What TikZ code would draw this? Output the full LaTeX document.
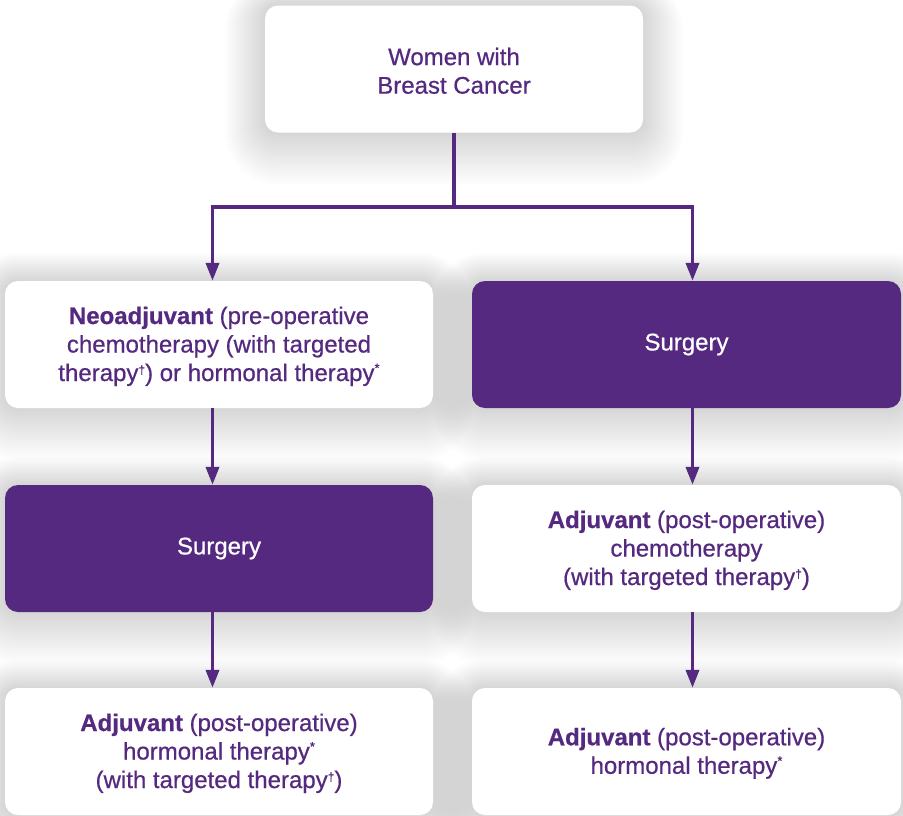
\documentclass[tikz,border=0pt]{standalone}
\usepackage{fontspec}
\setmainfont{Liberation Sans}[FakeBold=0.6]
\usetikzlibrary{arrows.meta,calc}
\definecolor{pp}{HTML}{54297F}
\pgfdeclarelayer{back}
\pgfdeclarelayer{shadow}
\pgfsetlayers{back,shadow,main}
\newcommand\mydag{\raisebox{7pt}{\fontsize{12}{12}\selectfont †}}
\newcommand\myast{\raisebox{8.5pt}{\fontsize{13}{13}\selectfont *}}
\newcommand\fl{\rule{0pt}{21pt}}
\tikzset{
 box/.style={rounded corners=13pt, minimum width=428pt, minimum height=127pt, inner sep=0pt, align=center, font=\fontsize{24}{28.5}\selectfont, text=pp, fill=white},
 darkbox/.style={box, fill=pp, text=white},
 conn/.style={draw=pp, line width=3.5pt},
 arr/.style={conn, -{Triangle[length=18pt,width=13pt]}},
}
\begin{document}
\begin{tikzpicture}[x=1pt,y=-1pt]
\useasboundingbox (0,0) rectangle (903,815);
\clip (0,0) rectangle (903,815);
\begin{pgfonlayer}{back}
\fill[white] (0,0) rectangle (903,815);
\end{pgfonlayer}
\node[box, minimum width=378pt] (top) at (454,69) {\fl Women with\\Breast Cancer};
\node[box] (neo) at (219,344.5) {\fl\textbf{Neoadjuvant} (pre-operative\\chemotherapy (with targeted\\therapy\mydag) or hormonal therapy\myast};
\node[darkbox, minimum width=429pt] (surgR) at (686.5,344.5) {Surgery};
\node[darkbox] (surgL) at (219,548.5) {Surgery};
\node[box, minimum width=429pt] (chemoR) at (686.5,548.5) {\fl\textbf{Adjuvant} (post-operative)\\chemotherapy\\(with targeted therapy\mydag)};
\node[box] (horL) at (219,751.5) {\fl\textbf{Adjuvant} (post-operative)\\hormonal therapy\myast\\(with targeted therapy\mydag)};
\node[box, minimum width=429pt] (horR) at (686.5,751.5) {\fl\textbf{Adjuvant} (post-operative)\\hormonal therapy\myast};
\coordinate (aL) at (212.5,0);
\coordinate (aR) at (692.5,0);
\coordinate (j) at (454,207);
\draw[conn] (top.south) -- (j);
\draw[arr] (j) -| (neo.north -| aL);
\draw[arr] (j) -| (surgR.north -| aR);
\draw[arr] (neo.south -| aL) -- (surgL.north -| aL);
\draw[arr] (surgL.south -| aL) -- (horL.north -| aL);
\draw[arr] (surgR.south -| aR) -- (chemoR.north -| aR);
\draw[arr] (chemoR.south -| aR) -- (horR.north -| aR);
\begin{pgfonlayer}{shadow}
\foreach \n in {top,neo,surgR,surgL,chemoR,horL,horR}{
 \foreach \i in {1,...,20}{
   \pgfmathsetmacro\rr{13+2*\i}
   \fill[black,opacity=0.009,rounded corners=\rr pt] ($(\n.north west)+(-2*\i,-1.4*\i)$) rectangle ($(\n.south east)+(2*\i,2.6*\i)$);
 }}
\end{pgfonlayer}
\end{tikzpicture}
\end{document}
